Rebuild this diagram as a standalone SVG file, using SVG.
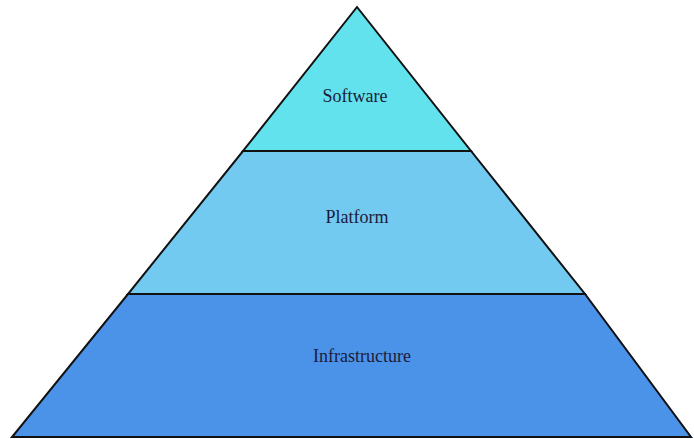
<svg xmlns="http://www.w3.org/2000/svg" width="694" height="439" viewBox="0 0 694 439">
<style>
.tier{stroke:#111;stroke-width:2;stroke-linejoin:miter}
.lbl{font-family:"Liberation Serif","Times New Roman",serif;font-size:18px;fill:#1c1c3a;text-anchor:middle}
</style>
<rect width="694" height="439" fill="#ffffff"/>
<g id="infrastructure">
<polygon class="tier" points="128,294 585,294 691,437 12,437" fill="#4b92e9"/>
<text class="lbl" x="362" y="362">Infrastructure</text>
</g>
<g id="platform">
<polygon class="tier" points="243,151 471,151 585,294 128,294" fill="#72caf1"/>
<text class="lbl" x="357" y="223">Platform</text>
</g>
<g id="software">
<polygon class="tier" points="357,7 471,151 243,151" fill="#62e2ec"/>
<text class="lbl" x="355" y="102">Software</text>
</g>
</svg>
